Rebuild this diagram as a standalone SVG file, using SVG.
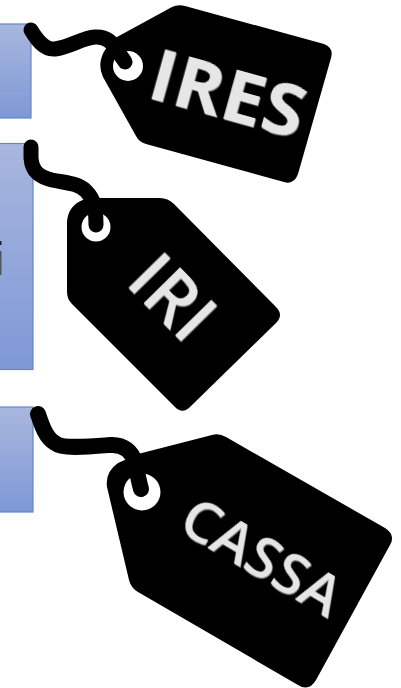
<svg xmlns="http://www.w3.org/2000/svg" width="401" height="688" viewBox="0 0 401 688">
<style>
.box{stroke:#5f86d0;stroke-width:1.2}
.tag{fill:#000}
.hole{fill:#fff}
.str{fill:none;stroke:#000;stroke-linecap:round;stroke-linejoin:round}
.lbl{font-family:"Open Sans","Liberation Sans",sans-serif;font-weight:700;fill:#e6e6e6;filter:url(#sh)}
.lbl.thin{font-weight:600}
</style>
<defs>
<linearGradient id="g" x1="0" y1="0" x2="0" y2="1"><stop offset="0" stop-color="#a9b7de"/><stop offset="1" stop-color="#7e98d6"/></linearGradient>
<filter id="sh" x="-10%" y="-10%" width="120%" height="120%"><feGaussianBlur in="SourceGraphic" stdDeviation="0.4" result="b"/><feFlood flood-color="#6e6e6e"/><feComposite in2="SourceAlpha" operator="in"/><feOffset dx="1.2" dy="1.2"/><feGaussianBlur stdDeviation="0.7" result="s"/><feMerge><feMergeNode in="s"/><feMergeNode in="b"/></feMerge></filter>
</defs>
<g id="box-1"><rect class="box" x="-5" y="24" width="36" height="94" fill="url(#g)"/></g>
<g id="box-2"><rect class="box" x="-5" y="143.500" width="38" height="226" fill="url(#g)"/><rect x="0" y="241" width="1.500" height="4" fill="#222"/><rect x="0" y="251" width="1.500" height="24" fill="#555"/></g>
<g id="box-3"><rect class="box" x="-5" y="407" width="38" height="105" fill="url(#g)"/></g>
<g id="tag-ires">
<path class="tag" d="M117,37 L172,7 Q178,4 185,6 L324,44 Q334,48 331,58 L298,174 Q294,185 284,182 L146,144 Q139,142 136,136 L103,77 Q96,62 107,47 Z"/>
<circle class="hole" cx="128" cy="66" r="15"/>
<text class="lbl" transform="translate(145,97) rotate(15.5)" font-size="72" textLength="158" lengthAdjust="spacingAndGlyphs">IRES</text>
</g>
<g id="tag-iri">
<path class="tag" d="M100,198 L160,198 Q168,198 174,204 L276,307 Q284,315 276,323 L191,406 Q183,415 175,407 L72,304 Q67,299 67,292 L67,222 Q68,205 85,199 Z"/>
<circle class="hole" cx="96" cy="227" r="14.500"/>
<text class="lbl thin" transform="translate(124,283) rotate(45.500)" font-size="70" textLength="88" lengthAdjust="spacingAndGlyphs">IRI</text>
</g>
<g id="tag-cassa">
<path class="tag" d="M138,454 L212,435 Q219,433 226,437 L385,528 Q396,535 390,545 L316,680 Q309,692 298,685 L138,592 Q131,588 129,580 L107,487 Q105,472 118,463 Z"/>
<circle class="hole" cx="142" cy="492" r="18.500"/>
<text class="lbl thin" transform="translate(176,529) rotate(30.500)" font-size="56" textLength="176" lengthAdjust="spacingAndGlyphs">CASSA</text>
</g>
<g id="connectors">
<path class="str" stroke-width="15" d="M31,30 C37,40 44,50 55,49 C70,47 82,38 95,37 C107,36 114,44 118,52 Q124,60 125,62"/>
<path class="str" stroke-width="15" d="M31,147 L31,158 C32,172 40,177 52,180 C66,183 78,183 86,191 C94,199 96,208 96,225"/>
<path class="str" stroke-width="16" d="M38,414 C42,426 46,438 55,443 C62,449 85,447 110,445 C124,444 132,452 135,462 C137,472 139,482 141,489"/>
</g>
</svg>
